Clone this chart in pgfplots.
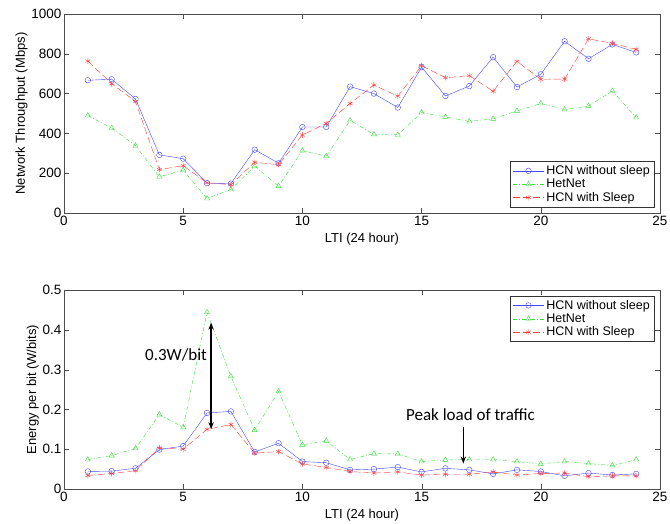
\documentclass[border=0pt]{standalone}
\usepackage{fontspec}
\setmainfont{Liberation Sans}
\newfontfamily\calib{Carlito}
\usepackage{pgfplots}
\pgfplotsset{compat=1.18}
\usetikzlibrary{arrows.meta}

\definecolor{hcnblue}{RGB}{70,70,255}
\definecolor{hetgreen}{RGB}{60,220,60}
\definecolor{sleepred}{RGB}{255,60,60}

\pgfplotsset{
  mlab/.style={
    scale only axis,
    width=596pt, height=199pt,
    xmin=0, xmax=25,
    xtick={0,5,10,15,20,25},
    tick align=inside,
    axis line style={black!70},
    major tick length=5pt,
    tick style={black!70},
    font=\fontsize{13}{15}\selectfont,
    /pgf/number format/assume math mode=true,
    /pgf/number format/1000 sep={},
    xticklabel={\fontsize{13.5}{15}\selectfont\pgfmathprintnumber{\tick}},
    yticklabel={\fontsize{13.5}{15}\selectfont\pgfmathprintnumber{\tick}},
    yticklabel style={xshift=1pt},
    xlabel={LTI (24 hour)},
    ylabel style={yshift=-3pt},
    legend cell align=left,
    legend style={draw=black!80, font=\fontsize{12.5}{14}\selectfont, row sep=-1pt, inner sep=2pt},
    legend image code/.code={
      \draw[mark repeat=2,mark phase=2] plot coordinates {(0cm,0cm) (0.55cm,0cm) (1.1cm,0cm)};
    },
  },
  hcn/.style={color=hcnblue, solid, mark=o, mark size=2.8pt, mark options={solid}},
  het/.style={color=hetgreen, dash pattern=on 4pt off 2pt on 1pt off 2pt, mark=triangle, mark size=3pt, mark options={solid}},
  slp/.style={color=sleepred, dash pattern=on 7pt off 3pt, mark=asterisk, mark size=2.8pt, mark options={solid}},
}

\begin{document}
\begin{tikzpicture}
\useasboundingbox (-64pt,-311pt) rectangle (606pt,213pt);
\begin{axis}[mlab, name=top, at={(0pt,0pt)}, anchor=south west,
  ymin=0, ymax=1000, ytick={0,200,400,600,800,1000},
  ylabel={Network Throughput (Mbps)},
  legend style={at={(0.99,0.03)}, anchor=south east},
]
\addplot[hcn] coordinates {
(1,667) (2,672) (3,573) (4,292) (5,273) (6,150) (7,148) (8,318) (9,250) (10,432) (11,432) (12,635)
(13,600) (14,530) (15,733) (16,588) (17,638) (18,783) (19,633) (20,697) (21,863) (22,775) (23,847) (24,807)};
\addlegendentry{HCN without sleep}
\addplot[het] coordinates {
(1,490) (2,427) (3,338) (4,182) (5,215) (6,73) (7,118) (8,235) (9,135) (10,313) (11,285) (12,465)
(13,395) (14,392) (15,505) (16,483) (17,460) (18,473) (19,513) (20,550) (21,520) (22,538) (23,613) (24,480)};
\addlegendentry{HetNet}
\addplot[slp] coordinates {
(1,763) (2,650) (3,560) (4,218) (5,238) (6,152) (7,142) (8,255) (9,243) (10,392) (11,450) (12,550)
(13,643) (14,587) (15,740) (16,680) (17,690) (18,612) (19,762) (20,672) (21,673) (22,875) (23,853) (24,822)};
\addlegendentry{HCN with Sleep}
\end{axis}

\begin{axis}[mlab, at={(0pt,-276pt)}, anchor=south west,
  ymin=0, ymax=0.5, ytick={0,0.1,0.2,0.3,0.4,0.5},
  /pgf/number format/fixed,
  ylabel={Energy per bit (W/bits)},
  legend style={at={(0.99,0.97)}, anchor=north east},
]
\addplot[hcn] coordinates {
(1,0.044) (2,0.045) (3,0.052) (4,0.099) (5,0.108) (6,0.191) (7,0.195) (8,0.093) (9,0.115) (10,0.069) (11,0.066) (12,0.048)
(13,0.050) (14,0.055) (15,0.043) (16,0.052) (17,0.048) (18,0.038) (19,0.048) (20,0.044) (21,0.033) (22,0.040) (23,0.035) (24,0.038)};
\addlegendentry{HCN without sleep}
\addplot[het] coordinates {
(1,0.074) (2,0.084) (3,0.102) (4,0.187) (5,0.155) (6,0.444) (7,0.283) (8,0.148) (9,0.245) (10,0.111) (11,0.121) (12,0.074)
(13,0.089) (14,0.088) (15,0.069) (16,0.073) (17,0.074) (18,0.074) (19,0.069) (20,0.063) (21,0.069) (22,0.064) (23,0.059) (24,0.074)};
\addlegendentry{HetNet}
\addplot[slp] coordinates {
(1,0.034) (2,0.039) (3,0.046) (4,0.103) (5,0.100) (6,0.150) (7,0.162) (8,0.090) (9,0.094) (10,0.063) (11,0.054) (12,0.044)
(13,0.040) (14,0.043) (15,0.035) (16,0.037) (17,0.037) (18,0.043) (19,0.035) (20,0.039) (21,0.040) (22,0.031) (23,0.033) (24,0.033)};
\addlegendentry{HCN with Sleep}
\draw[{Stealth[length=7pt]}-{Stealth[length=7pt]}, line width=1.4pt] (axis cs:6.17,0.418) -- (axis cs:6.17,0.150);
\node[font=\calib\fontsize{17}{19}\selectfont] at (axis cs:4.7,0.337) {0.3W/bit};
\draw[-{Stealth[length=7pt]}, line width=1pt] (axis cs:16.75,0.155) -- (axis cs:16.75,0.064);
\node[font=\calib\fontsize{17}{19}\selectfont] at (axis cs:17.05,0.186) {Peak load of traffic};
\end{axis}
\end{tikzpicture}
\end{document}
